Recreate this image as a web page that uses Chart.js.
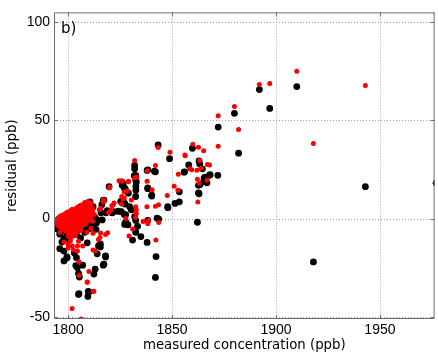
<!DOCTYPE html>
<html>
<head>
<meta charset="utf-8">
<script src="https://cdn.jsdelivr.net/npm/chart.js@4"></script>
<style>
html,body{margin:0;padding:0;background:#fff;}
canvas{display:block;}
</style>
</head>
<body>
<canvas id="c" width="438" height="355"></canvas>
<script>
// ---- data ----
const xTicks = [1800, 1850, 1900, 1950];
const yTicks = [-50, 0, 50, 100];
const xTitle = 'measured concentration (ppb)';
const yTitle = 'residual (ppb)';
const panelLabel = 'b)';

const blackPts = [
 [1892,65.7],[1910,67.2],[1880,53.6],[1897,56.1],[1872.2,46.6],[1882,33.3],[1872,22],[1943,16.2],[1918,-22.1],[1977,18],
 [1843.3,37.5],[1848.8,30.5],[1832,27],[1832,25.3],[1831.8,21.8],[1838,24.5],[1842,23.8],[1856,23.8],[1859.8,35.8],[1863,29.3],
 [1868,22],[1858,27.3],[1863.3,27.8],[1864.6,25.3],[1865.9,21.1],[1865.2,18.9],[1862.7,16.9],[1863.5,17.3],[1862.7,13],[1863,12.6],
 [1862.2,-1.9],[1868.3,22.3],[1865.4,20.6],[1866.8,18.2],[1855.8,23.6],
 [1832.6,16.4],[1832.6,14.4],[1832.5,19.7],[1832.5,22],[1832.5,11.2],[1838.3,15.6],[1840.2,11.9],[1853.5,8.5],[1851.4,7.7],[1848,5.5],
 [1847.9,6],[1853.5,13.6],[1842.8,0.15],[1843.6,-0.3],[1838.3,-1],[1842.3,-19.4],[1842,-30],[1838,-12.2],[1835,-9.2],[1831,-11],
 [1827.4,7.4],[1820.9,3],[1827.2,-3],[1828.8,-3.2],[1818,-19],[1816.9,-23.8],[1814.6,-14],[1812.4,-28.3],[1809.7,-37.2],[1809.5,-39.7],
 [1805,-38.7],[1805.4,-29.8],[1804.4,-25],[1807,-23.8],[1798,-21.6],[1796,-15.4],[1799.4,-19.6],[1793.5,-5.2],
 [1817.2,9.4],[1822,3.5],[1818.8,4],[1827.5,15],[1826.7,8.5],[1828,-2.3],[1816.4,-0.7],[1814,-0.7],[1811.3,2.3],[1812.5,-3],
 [1813.4,-5.5],[1806,-9.9],[1809.2,-12.4],
 [1798,-16.6],[1799.5,-20],[1803,-17.6],[1804,-20],[1815.5,-13],[1815.5,-14.5],[1814,-18],[1818,-19.6],[1817.2,-23.3],[1813,-25.8],
 [1803.7,-24],[1805,-28],[1805.2,-38.3],[1810,-37.5],
 [1825.6,3.5],[1827,2],[1829.6,6],[1830.4,4.4],[1832,1],[1833.4,-4],[1832.5,-1],[1832.5,-7],[1827.7,2],[1827.4,-2.2],
 [1841.5,24.1],[1838.3,24.8],[1826.4,17.7],[1827,15.7],[1832.8,18.6],[1838.3,15.2],[1840.2,11.4],
 [1819.7,16.2],[1825.8,18.7],[1826,17],[1827.4,14.6],[1829,12.9],[1825.3,8.7],[1816.9,9.2],[1816.2,7],[1809.4,3.7],[1811,2.9],
 [1815.8,2.9],[1818.2,2.9],[1821.3,2.9],[1824.2,3.7],[1813,0.3],[1813.7,-2.2],[1809.4,-3],[1810.2,-5.2],
 [1795,-5.5],[1797,-6.2],[1799.5,-7.5],[1802,-7.2],[1804,-8],[1796,-8],[1798,-10],[1800.5,-11],[1794.5,-4],[1808,-7],
 [1807,-5],[1797,-12],[1810.5,8.5],[1812,6]
];

const redPts = [
 [1910,75],[1892,68.3],[1897,68.8],[1943,67.7],[1880,57.1],[1872.2,52.4],[1882,45.4],[1872.2,36.8],[1918,38.2],[1977,105],
 [1843.3,36.2],[1849,33.8],[1832,29.5],[1832,20.8],[1833,21],[1838,24.3],[1842,27],[1856.2,32.3],[1860,37.8],[1862.7,36.3],
 [1865.2,34.5],[1868,27.3],[1858.4,25.3],[1853,22.5],[1862,24.6],[1829,19],[1826,19],
 [1838,19],[1840.4,14.7],[1847.7,11.7],[1852.8,14.4],[1851,16.4],[1842,6.2],[1843.5,7],[1842.2,-10.9],[1838.3,-2.7],[1836,-1.5],
 [1862.4,8.4],[1820,16],[1817.3,8.9],[1831,-5.4],[1818,-8.2],[1810,-27],[1812,-37.2],[1809.2,-32.3],[1805.2,-22],[1801.9,-45.9],
 [1806.3,-51.2],[1859.5,24.8],[1863.3,29.5],[1867,27.5],[1866.8,19.5],[1862.2,20],[1863,18],[1864,25.6],[1830.4,9.4],[1825.6,7.4],
 [1832.8,4.4],[1832.8,2.7],[1837.9,6],[1843.6,-2],[1838.6,-1],[1856.3,32],
 [1819.7,15.5],[1824.5,19.2],[1829,18.7],[1827,13.5],[1828.5,14],[1825.8,11.2],[1826.4,9.9],[1822.1,7.9],[1821,6.5],[1816.8,8.5],
 [1811,7.9],[1809.4,6.5],[1809.8,4.5],[1815,4.5],[1820.5,4.2],[1812.6,2],[1811.8,-1.4],[1810.2,-0.5],[1811,-5],[1809,-7],
 [1812,-7.5],[1815.3,-9.7],[1819,-7.2],[1829.3,-8.9],[1827.8,0],[1832.5,6],[1832.5,0.5],
 [1821.6,6.9],[1815.6,5.2],[1819.5,3],[1817,9.5],[1827,10.5],
 [1798,-12],[1800,-13.5],[1802,-14],[1804.5,-14],[1804.5,-16.6],[1813,-16.6],[1812,-16],[1805.2,-29],[1809.2,-32.5],
 [1812.4,-37],[1796,-7],[1800,-9],[1801,-11.6],[1805,-11.6],[1807,-14],[1814.6,-10.7],[1815.6,-7.4],[1800,-15],[1802.5,-16],
 // dense cluster near 1800
 [1808,8.2],[1809.5,8.6],[1806,6.8],[1807,7],[1809,7.4],[1810.2,7.8],
 [1805,6.1],[1807,6.2],[1809,6.3],[1811,6.4],
 [1804,5.4],[1806.1,5.6],[1808,5.3],[1810,5.7],
 [1802,4.7],[1804,4.8],[1806,4.6],[1808,4.8],[1810,4.7],[1812,4.8],
 [1801,3.9],[1803.1,4.1],[1805,3.8],[1807.1,4.2],[1809,3.9],[1811,4.1],
 [1799.5,3.2],[1801.5,3.3],[1803.5,3.1],[1805.5,3.3],[1807.5,3.1],[1809.5,3.3],[1811.5,3.2],
 [1798.5,2.4],[1800.6,2.6],[1802.5,2.4],[1804.4,2.6],[1806.5,2.4],[1808.6,2.6],[1810.5,2.4],
 [1797,1.7],[1799,1.8],[1801,1.6],[1803,1.8],[1805,1.6],[1807,1.8],[1809,1.6],[1811,1.8],
 [1796,1],[1798.1,1.1],[1800,0.9],[1802,1.1],[1804.1,0.9],[1806,1.1],[1808,0.9],[1810,1.1],
 [1795.2,0.3],[1797.2,0.2],[1799.2,0.3],[1801.2,0.2],[1803.2,0.3],[1805.2,0.2],[1807.2,0.3],[1809.2,0.2],[1811,0.3],
 [1794.5,-0.5],[1796.5,-0.4],[1798.5,-0.6],[1800.5,-0.4],[1802.5,-0.6],[1804.5,-0.4],[1806.5,-0.6],[1808.5,-0.4],
 [1795,-1.3],[1797,-1.2],[1799,-1.3],[1801,-1.2],[1803,-1.3],[1805,-1.2],[1807,-1.3],[1809,-1.2],
 [1794,-2],[1796,-2.1],[1798,-1.9],[1800,-2.1],[1802,-1.9],[1804,-2.1],[1806,-1.9],[1808,-2.1],
 [1794.8,-2.8],[1796.8,-2.7],[1798.8,-2.8],[1800.8,-2.7],[1802.8,-2.8],[1804.8,-2.7],[1806.8,-2.8],[1808.4,-2.9],
 [1795,-3.5],[1797,-3.6],[1799,-3.4],[1801,-3.6],[1803,-3.4],[1805,-3.6],[1807,-3.4],
 [1796,-4.3],[1798,-4.3],[1800,-4.2],[1802,-4.3],[1804,-4.2],[1806,-4.3],
 [1797,-5],[1799,-5.1],[1801,-4.9],[1803,-5.1],[1805,-4.9],
 [1798,-5.8],[1800,-5.8],[1802,-5.9],[1804,-5.8],[1806,-5.9],
 [1799,-6.5],[1801,-6.6],[1803,-6.4],[1805,-6.6],
 [1800,-7.3],[1802,-7.4],[1804,-7.3],
 [1800.5,-8],[1802.5,-8.1],[1801.5,-8.8],[1803.3,-8.8],[1801.5,-9.5]
];

// ---- chart ----
const frameColor = '#6e6e6e';
const tickFont = '"Liberation Sans", Arial, sans-serif';
const titleFont = '"DejaVu Sans", Verdana, sans-serif';

const gridPlugin = {
  id: 'dottedGrid',
  beforeDatasetsDraw(chart) {
    const {ctx, chartArea: a, scales} = chart;
    ctx.save();
    ctx.strokeStyle = '#a0a0a0';
    ctx.lineWidth = 1;
    ctx.setLineDash([1, 2]);
    ctx.beginPath();
    xTicks.forEach(v => {
      const px = Math.round(scales.x.getPixelForValue(v)) + 0.5;
      ctx.moveTo(px, a.top); ctx.lineTo(px, a.bottom);
    });
    yTicks.forEach(v => {
      const py = Math.round(scales.y.getPixelForValue(v)) + 0.5;
      ctx.moveTo(a.left, py); ctx.lineTo(a.right, py);
    });
    ctx.stroke();
    ctx.restore();
  }
};

const framePlugin = {
  id: 'frame',
  afterDraw(chart) {
    const {ctx, chartArea: a, scales} = chart;
    ctx.save();
    ctx.strokeStyle = frameColor;
    ctx.lineWidth = 1;
    ctx.beginPath();
    ctx.rect(a.left + 0.5, a.top + 0.5, a.right - a.left - 1, a.bottom - a.top - 1);
    ctx.stroke();
    const tl = 4;
    ctx.beginPath();
    xTicks.forEach(v => {
      const px = Math.round(scales.x.getPixelForValue(v)) + 0.5;
      ctx.moveTo(px, a.bottom); ctx.lineTo(px, a.bottom - tl);
      ctx.moveTo(px, a.top); ctx.lineTo(px, a.top + tl);
    });
    yTicks.forEach(v => {
      const py = Math.round(scales.y.getPixelForValue(v)) + 0.5;
      ctx.moveTo(a.left, py); ctx.lineTo(a.left + tl, py);
      ctx.moveTo(a.right, py); ctx.lineTo(a.right - tl, py);
    });
    ctx.stroke();
    ctx.fillStyle = '#000';
    ctx.font = '15px ' + titleFont;
    ctx.textBaseline = 'top';
    ctx.textAlign = 'left';
    ctx.fillText(panelLabel, a.left + 7, a.top + 9);
    ctx.restore();
  }
};

new Chart(document.getElementById('c'), {
  type: 'scatter',
  data: {
    datasets: [
      { label: 'red', data: redPts.map(([x, y]) => ({x, y})), backgroundColor: '#ff0000', borderWidth: 0, pointRadius: 2.5, pointHoverRadius: 2.5 },
      { label: 'black', data: blackPts.map(([x, y]) => ({x, y})), backgroundColor: '#000000', borderWidth: 0, pointRadius: 3.4, pointHoverRadius: 3.4 }
    ]
  },
  options: {
    responsive: false,
    animation: false,
    devicePixelRatio: 1,
    layout: { padding: { top: 8, right: 1, left: 0, bottom: 0 } },
    plugins: { legend: { display: false }, tooltip: { enabled: false } },
    events: [],
    scales: {
      x: {
        type: 'linear',
        min: 1793.2,
        max: 1976.3,
        afterBuildTicks: s => { s.ticks = xTicks.map(v => ({value: v})); },
        afterFit: s => { s.height = 36; },
        grid: { display: false, drawTicks: false },
        border: { display: false },
        ticks: { padding: 3, color: '#000', font: { family: tickFont, size: 14 }, maxRotation: 0, callback: v => String(v) },
        title: { display: true, text: xTitle, color: '#000', font: { family: titleFont, size: 13.3 }, padding: { top: 0, bottom: 1 } }
      },
      y: {
        type: 'linear',
        min: -51.2,
        max: 105,
        afterBuildTicks: s => { s.ticks = yTicks.map(v => ({value: v})); },
        afterFit: s => { s.width = 54; },
        grid: { display: false, drawTicks: false },
        border: { display: false },
        ticks: { padding: 4, color: '#000', font: { family: tickFont, size: 14 }, callback: v => String(v) },
        title: { display: true, text: yTitle, color: '#000', font: { family: titleFont, size: 13.3 }, padding: { top: 5, bottom: 0 } }
      }
    }
  },
  plugins: [gridPlugin, framePlugin]
});
</script>
</body>
</html>
